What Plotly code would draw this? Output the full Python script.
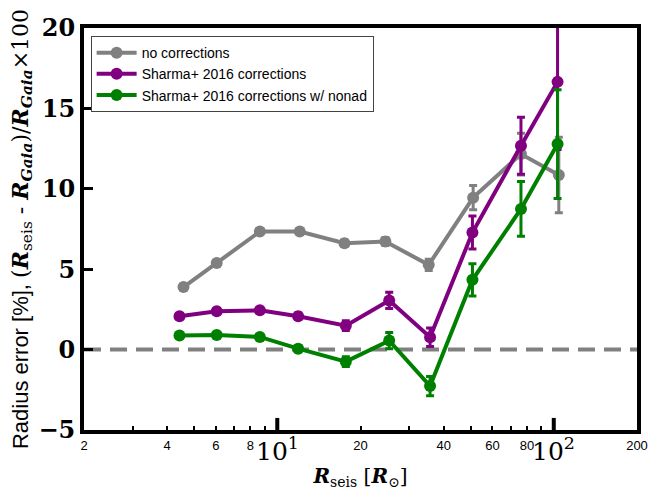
import math
import plotly.graph_objects as go

# ---- data ----
gray_x = [4.58, 6.04, 8.65, 12.06, 17.5, 24.6, 35.3, 51.1, 76.1, 104.3]
gray_y = [3.89, 5.38, 7.34, 7.34, 6.62, 6.72, 5.27, 9.45, 12.16, 10.86]
gray_e = [0.15, 0.15, 0.15, 0.15, 0.2, 0.25, 0.35, 0.75, 1.3, 2.35]

sharma_x = [4.43, 6.04, 8.65, 11.9, 17.7, 25.4, 35.7, 50.8, 76.1, 103.2]
sharma_y = [2.07, 2.38, 2.44, 2.07, 1.49, 3.06, 0.77, 7.28, 12.68, 16.65]
sharma_e = [0.15, 0.15, 0.15, 0.2, 0.3, 0.5, 0.57, 1.03, 1.77, 4.2]

nonad_x = [4.43, 6.04, 8.65, 11.9, 17.7, 25.4, 35.7, 50.8, 76.1, 103.2]
nonad_y = [0.87, 0.91, 0.79, 0.06, -0.75, 0.56, -2.27, 4.34, 8.75, 12.78]
nonad_e = [0.15, 0.15, 0.15, 0.2, 0.3, 0.5, 0.6, 1.0, 1.7, 3.38]

series_names = ["no corrections", "Sharma+ 2016 corrections",
                "Sharma+ 2016 corrections w/ nonad"]
series_colors = ["#808080", "#800080", "#008000"]

x_small_ticks = [2, 4, 6, 8, 20, 40, 60, 80, 200]
x_minor = [3, 5, 7, 9, 30, 50, 70, 90]
x_decades = [10, 100]
x_decade_labels = ["10<sup>1</sup>", "10<sup>2</sup>"]
y_tickvals = [-5, 0, 5, 10, 15, 20]

y_ticktext = [("−" + str(-v)) if v < 0 else str(v) for v in y_tickvals]

fig = go.Figure()
for xs, ys, es, name, col in zip(
        [gray_x, sharma_x, nonad_x], [gray_y, sharma_y, nonad_y],
        [gray_e, sharma_e, nonad_e], series_names, series_colors):
    fig.add_trace(go.Scatter(
        x=xs, y=ys, name=name, mode="lines+markers",
        line=dict(color=col, width=4),
        marker=dict(color=col, size=12),
        error_y=dict(type="data", array=es, visible=True, color=col,
                     thickness=3, width=4),
    ))

# zero line
fig.add_shape(type="line", xref="paper", x0=0, x1=1, yref="y", y0=0, y1=0,
              line=dict(color="#808080", width=4, dash="17px,9px"), layer="below")
# big major ticks + labels at decades
for v, lab in zip(x_decades, x_decade_labels):
    fig.add_shape(type="line", xref="x", x0=v, x1=v, yref="paper", y0=0, y1=0.03,
                  line=dict(color="black", width=4))
    fig.add_annotation(x=math.log10(v), xref="x", y=0, yref="paper",
                       text=lab, showarrow=False, xanchor="center",
                       yanchor="top", yshift=-1,
                       font=dict(family="DejaVu Serif", size=25, color="black"))

serif = "font-family:DejaVu Serif"
ytitle = ("Radius error [%], "
          f"<span style='{serif}'>(<b><i>R</i></b><sub>seis</sub> - "
          "<b><i>R</i></b><sub><b><i>Gaia</i></b></sub>)/"
          "<b><i>R</i></b><sub><b><i>Gaia</i></b></sub>×100</span>")
xtitle = (f"<span style='{serif}'><b><i>R</i></b><sub>seis</sub> "
          "[<b><i>R</i></b><sub>⊙</sub>]</span>")

fig.update_layout(
    width=653, height=500,
    margin=dict(l=84, r=16, t=28, b=70),
    paper_bgcolor="white", plot_bgcolor="white",
    font=dict(family="Liberation Sans", color="black"),
    showlegend=True,
    legend=dict(x=0.012, y=0.98, xanchor="left", yanchor="top",
                bgcolor="white", bordercolor="#444", borderwidth=1,
                font=dict(size=14, family="Liberation Sans"),
                itemwidth=40, tracegroupgap=0),
    xaxis=dict(type="log", range=[0.30103, 2.30103], automargin=False,
               tickmode="array", tickvals=x_small_ticks,
               ticktext=[str(v) for v in x_small_ticks],
               tickangle=0,
               ticks="inside", ticklen=4, tickwidth=1.5, tickcolor="black",
               tickfont=dict(size=13, family="Liberation Sans"),
               minor=dict(tickvals=x_minor, ticks="inside", ticklen=4,
                          tickwidth=1.5, tickcolor="black"),
               showline=True, linecolor="black", linewidth=4, mirror=True,
               showgrid=False, zeroline=False,
               title=dict(text=xtitle, font=dict(size=20), standoff=18)),
    yaxis=dict(range=[-5, 20], automargin=False,
               tickmode="array", tickvals=y_tickvals,
               ticktext=y_ticktext,
               ticks="inside", ticklen=9, tickwidth=3, tickcolor="black",
               tickfont=dict(size=24, family="DejaVu Serif", weight="bold"),
               showline=True, linecolor="black", linewidth=4, mirror=True,
               showgrid=False, zeroline=False,
               title=dict(text=ytitle, font=dict(size=22), standoff=5)),
)

fig.write_html("out.html")
